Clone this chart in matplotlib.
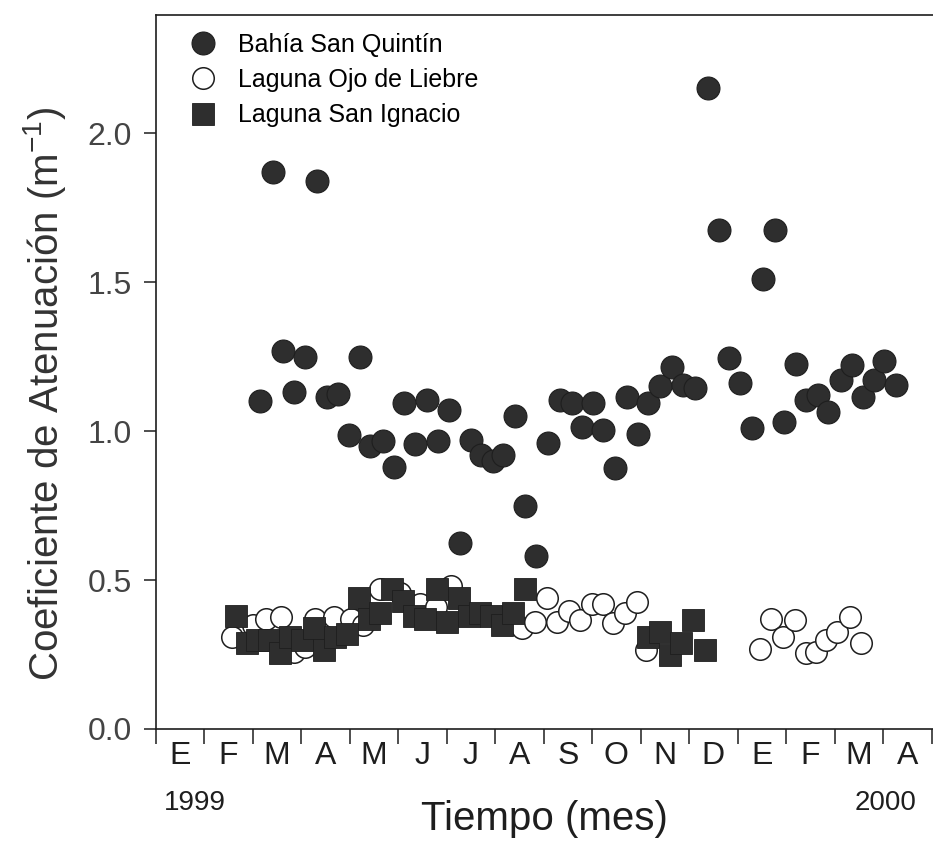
import matplotlib
matplotlib.use('Agg')
from matplotlib import pyplot as plt

plt.rcParams['font.family'] = ['Liberation Sans', 'DejaVu Sans']

# month position (0 = start of Jan 1999) and attenuation coefficient (m^-1)
bsq_mes = [2.16, 2.42, 2.62, 2.85, 3.09, 3.33, 3.54, 3.77, 3.98, 4.22,
           4.43, 4.69, 4.91, 5.13, 5.35, 5.59, 5.83, 6.05, 6.27, 6.50,
           6.72, 6.95, 7.17, 7.41, 7.62, 7.84, 8.10, 8.34, 8.58, 8.79,
           9.03, 9.23, 9.47, 9.73, 9.95, 10.16, 10.40, 10.65, 10.88, 11.12,
           11.40, 11.61, 11.82, 12.05, 12.29, 12.53, 12.77, 12.96, 13.20, 13.42,
           13.66, 13.87, 14.13, 14.36, 14.59, 14.81, 15.03, 15.27]
bsq_k = [1.10, 1.87, 1.27, 1.13, 1.25, 1.84, 1.115, 1.125, 0.985, 1.25,
         0.95, 0.965, 0.88, 1.095, 0.955, 1.105, 0.965, 1.07, 0.625, 0.97,
         0.92, 0.90, 0.92, 1.05, 0.75, 0.58, 0.96, 1.105, 1.095, 1.015,
         1.095, 1.005, 0.875, 1.115, 0.99, 1.095, 1.15, 1.215, 1.155, 1.145,
         2.15, 1.675, 1.245, 1.16, 1.01, 1.51, 1.675, 1.03, 1.225, 1.105,
         1.12, 1.065, 1.17, 1.22, 1.115, 1.17, 1.235, 1.155]

olo_mes = [1.58, 2.02, 2.28, 2.59, 2.85, 3.08, 3.29, 3.68, 4.03, 4.28,
           4.63, 5.04, 5.45, 5.78, 6.09, 7.55, 7.82, 8.08, 8.27, 8.53,
           8.75, 8.99, 9.23, 9.44, 9.68, 9.92, 10.12, 12.46, 12.70, 12.94,
           13.18, 13.41, 13.62, 13.83, 14.05, 14.31, 14.55]
olo_k = [0.31, 0.35, 0.37, 0.375, 0.26, 0.275, 0.37, 0.375, 0.37, 0.35,
         0.47, 0.455, 0.42, 0.41, 0.48, 0.34, 0.36, 0.44, 0.36, 0.395,
         0.365, 0.42, 0.42, 0.355, 0.39, 0.425, 0.265, 0.27, 0.37, 0.31,
         0.365, 0.255, 0.26, 0.30, 0.325, 0.375, 0.29]

lsi_mes = [1.66, 1.88, 2.10, 2.33, 2.57, 2.78, 3.02, 3.26, 3.47, 3.70,
           3.94, 4.19, 4.40, 4.63, 4.87, 5.11, 5.32, 5.56, 5.80, 6.01,
           6.25, 6.47, 6.69, 6.92, 7.14, 7.38, 7.62,
           10.16, 10.40, 10.60, 10.84, 11.08, 11.33]
lsi_k = [0.38, 0.29, 0.30, 0.30, 0.255, 0.31, 0.30, 0.34, 0.265, 0.31,
         0.32, 0.44, 0.37, 0.39, 0.47, 0.43, 0.38, 0.37, 0.47, 0.36,
         0.44, 0.38, 0.39, 0.38, 0.35, 0.39, 0.47,
         0.31, 0.325, 0.25, 0.29, 0.365, 0.265]

meses = ['E', 'F', 'M', 'A', 'M', 'J', 'J', 'A', 'S', 'O', 'N', 'D', 'E', 'F', 'M', 'A']
y_ticks = [0.0, 0.5, 1.0, 1.5, 2.0]

dark = '#2e2e2e'
ink = '#1e1e1e'

fig = plt.figure(figsize=(9.33, 8.61), dpi=100)
ax = fig.add_axes([155.5 / 933, 1 - 729 / 861, (933 - 155.5) / 933, (729 - 15) / 861])

ax.plot(olo_mes, olo_k, 'o', ms=15.5, mfc='white', mec=ink, mew=1.1,
        label='Laguna Ojo de Liebre', zorder=3)
ax.plot(lsi_mes, lsi_k, 's', ms=15.5, mfc=dark, mec=ink, mew=0.6,
        label='Laguna San Ignacio', zorder=4)
ax.plot(bsq_mes, bsq_k, 'o', ms=16.5, mfc=dark, mec=ink, mew=0.8,
        label='Bahía San Quintín', zorder=5)

ax.set_xlim(0, 16.03)
ax.set_ylim(0, 2.396)

ax.set_xticks(range(17))
ax.set_xticklabels([])
ax.set_xticks([i + 0.5 for i in range(16)], minor=True)
ax.set_xticklabels(meses, minor=True, fontsize=23, color=ink)
ax.tick_params(axis='x', which='major', direction='out', length=10.5, width=1.1, color=ink)
ax.tick_params(axis='x', which='minor', length=0, pad=9)

ax.set_yticks(y_ticks)
ax.set_yticklabels(['%.1f' % v for v in y_ticks], fontsize=23, color='#444444')
ax.tick_params(axis='y', direction='out', length=9, width=1.1, color=ink, pad=8)

ax.spines['right'].set_visible(False)
for s in ['left', 'bottom', 'top']:
    ax.spines[s].set_linewidth(1.2)
    ax.spines[s].set_color(ink)

ax.set_ylabel('Coeficiente de Atenuación (m$^{\\mathregular{-1}}$)', fontsize=29, color='#333333')
ax.yaxis.set_label_coords(-0.113, 0.47)
ax.set_xlabel('Tiempo (mes)', fontsize=29, color=ink)
ax.xaxis.set_label_coords(0.5, -0.1)

ax.text(0.05, -0.103, '1999', transform=ax.transAxes, fontsize=20, color=ink,
        ha='center', va='center')
ax.text(0.939, -0.103, '2000', transform=ax.transAxes, fontsize=20, color=ink,
        ha='center', va='center')

h, l = ax.get_legend_handles_labels()
order = [2, 0, 1]
ax.legend([h[i] for i in order], [l[i] for i in order], loc='upper left',
          bbox_to_anchor=(0.045, 0.975), frameon=False, fontsize=18,
          handlelength=1.0, handletextpad=0.9, labelspacing=0.45,
          borderpad=0, borderaxespad=0)

fig.savefig('out.png', dpi=100)
